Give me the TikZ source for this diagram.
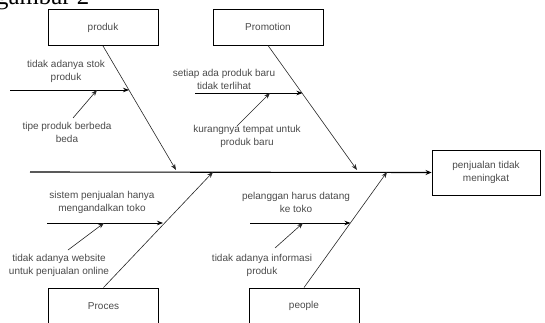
\documentclass[tikz,border=0pt]{standalone}
\usepackage{fontspec}
\setmainfont{Liberation Sans}
\newfontfamily\captionserif{Liberation Serif}
\usetikzlibrary{arrows.meta}
\definecolor{labelgrey}{HTML}{4A4A4A}
\tikzset{
  catbox/.style={draw=black, line width=0.9pt, minimum width=110pt, minimum height=36pt,
    inner sep=0pt, text=labelgrey, font=\fontsize{10}{13}\selectfont},
  lbl/.style={text=labelgrey, align=center, inner sep=0pt,
    font=\fontsize{10}{13}\selectfont},
  bone/.style={draw=black!85, line width=0.6pt, -{Stealth[length=6pt,width=4.5pt]}},
  rib/.style={draw=black, line width=0.8pt, -{Stealth[length=6pt,width=4.5pt]}},
  spine/.style={draw=black, line width=1.1pt, -{Stealth[length=6pt,width=5pt]}},
  twig/.style={draw=black!85, line width=0.6pt, -{Stealth[length=6pt,width=4.5pt]}}
}
\begin{document}
\begin{tikzpicture}[x=1pt, y=-1pt]
\useasboundingbox (0,0) rectangle (545,323);

% caption above the chart, partly above the page edge
\node[anchor=base west, inner sep=0pt]
  (caption) at (-4,5) {\resizebox{93pt}{!}{\captionserif gambar 2}};

% category boxes and effect box
\node[catbox] (produk) at (103,27.5) {produk};
\node[catbox] (promo) at (268,27) {Promotion};
\node[catbox] (proces) at (103.5,306) {Proces};
\node[catbox] (people) at (304,306) {people};
\node[catbox, minimum width=108pt, minimum height=45pt, align=center]
  (effect) at (486,172.5) {penjualan tidak\\meningkat};

% spine
\coordinate (tail) at (30,172);
\draw[spine] (tail) -- (effect.west);

% main bones
\coordinate (pdHit) at (176,170);
\coordinate (pmHit) at (357,170);
\coordinate (pcHit) at (213,172);
\coordinate (ppHit) at (387,172);
\draw[bone] (produk.south) -- (pdHit);
\draw[bone] (promo.south) -- (pmHit);
\draw[bone] (proces.north) -- (pcHit);
\draw[bone] (people.north) -- (ppHit);

% produk causes
\coordinate (pdA0) at (10,90);
\coordinate (pdA1) at (129,90);
\draw[rib] (pdA0) -- (pdA1);
\node[lbl] (pdL1) at (66,71) {tidak adanya stok\\produk};
\node[lbl] (pdL2) at (67,132) {tipe produk berbeda\\beda};
\coordinate (pdB0) at (73,118);
\coordinate (pdB1) at (97,90);
\draw[twig] (pdB0) -- (pdB1);

% promotion causes
\coordinate (pmA0) at (195,93);
\coordinate (pmA1) at (302.5,93);
\draw[rib] (pmA0) -- (pmA1);
\node[lbl] (pmL1) at (224,79) {setiap ada produk baru\\tidak terlihat};
\node[lbl] (pmL2) at (247,136) {kurangnya tempat untuk\\produk baru};
\coordinate (pmB0) at (237,126);
\coordinate (pmB1) at (270,93);
\draw[twig] (pmB0) -- (pmB1);

% proces causes
\coordinate (pcA0) at (47,223);
\coordinate (pcA1) at (163,223);
\draw[rib] (pcA0) -- (pcA1);
\node[lbl] (pcL1) at (102,202) {sistem penjualan hanya\\mengandalkan toko};
\node[lbl] (pcL2) at (59,265) {tidak adanya website\\untuk penjualan online};
\coordinate (pcB0) at (68,250);
\coordinate (pcB1) at (104,223);
\draw[twig] (pcB0) -- (pcB1);

% people causes
\coordinate (ppA0) at (250,223);
\coordinate (ppA1) at (350.5,223);
\draw[rib] (ppA0) -- (ppA1);
\node[lbl] (ppL1) at (296,202) {pelanggan harus datang\\ke toko};
\node[lbl] (ppL2) at (262,265) {tidak adanya informasi\\produk};
\coordinate (ppB0) at (275,248);
\coordinate (ppB1) at (303,223);
\draw[twig] (ppB0) -- (ppB1);
\end{tikzpicture}
\end{document}
